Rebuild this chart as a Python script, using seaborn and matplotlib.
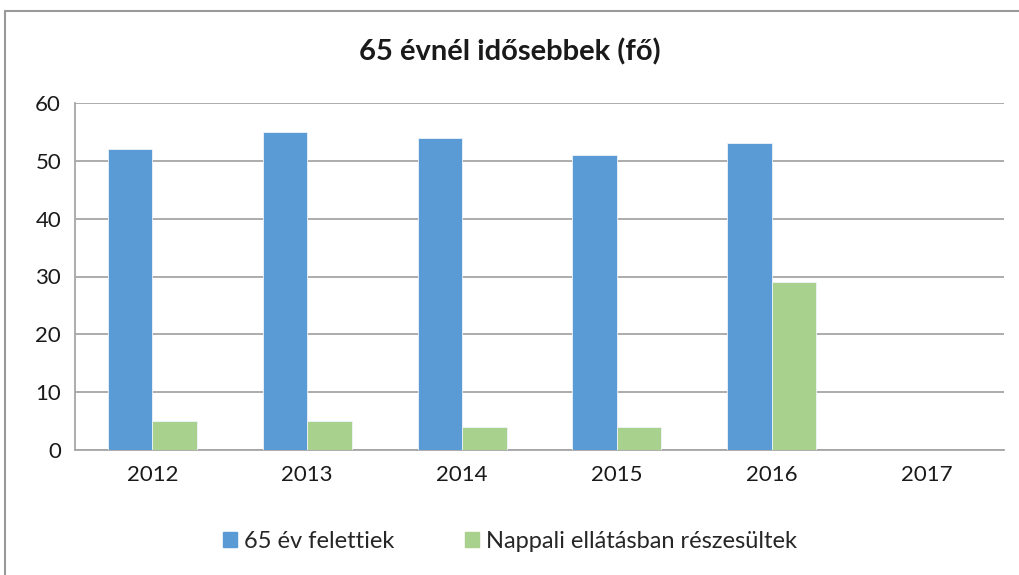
import matplotlib
matplotlib.use("Agg")
import matplotlib.pyplot as plt
from matplotlib.lines import Line2D
import pandas as pd
import seaborn as sns

# chart data
years = ["2012", "2013", "2014", "2015", "2016", "2017"]
over_65 = [52, 55, 54, 51, 53, 0]
day_care = [5, 5, 4, 4, 29, 0]
series_names = ["65 év felettiek", "Nappali ellátásban részesültek"]
colors = ["#5B9BD5", "#A9D18E"]
title = "65 évnél idősebbek (fő)"
y_ticks = [0, 10, 20, 30, 40, 50, 60]

df = pd.DataFrame({
    "year": years * 2,
    "value": over_65 + day_care,
    "series": [series_names[0]] * len(years) + [series_names[1]] * len(years),
})

sns.set_style("white")
plt.rcParams["font.family"] = ["Lato", "DejaVu Sans"]

fig = plt.figure(figsize=(10.2, 5.75), dpi=100)
ax = fig.add_axes([75 / 1020, 1 - 450 / 575, (1004 - 75) / 1020, (450 - 103) / 575])

sns.barplot(data=df, x="year", y="value", hue="series", order=years,
            hue_order=series_names, palette=colors, width=0.575, gap=0,
            saturation=1, ax=ax, zorder=3, legend=False,
            edgecolor="#eef4fa", linewidth=0.6)

ax.set_ylim(0, 60)
ax.set_yticks(y_ticks)
ax.set_xlim(-0.5, len(years) - 0.5)
ax.grid(axis="y", color="#a6a6a6", linewidth=1.3, zorder=0)
ax.set_axisbelow(True)
ax.set_xlabel("")
ax.set_ylabel("")
ax.tick_params(axis="both", length=0, labelsize=16, colors="#1a1a1a")
ax.tick_params(axis="x", pad=11)
ax.tick_params(axis="y", pad=10)
for side in ["top", "right"]:
    ax.spines[side].set_visible(False)
for side in ["left", "bottom"]:
    ax.spines[side].set_color("#a6a6a6")
    ax.spines[side].set_linewidth(1.3)

fig.text(0.5, 1 - 52 / 575, title, ha="center", va="center",
         fontsize=21, fontweight="bold", color="#1a1a1a")

handles = [plt.Rectangle((0, 0), 1, 1, color=c) for c in colors]
fig.legend(handles, series_names, loc="center", bbox_to_anchor=(0.5, 1 - 541 / 575),
           ncol=2, frameon=False, fontsize=17, handlelength=0.6, handleheight=0.6,
           columnspacing=3, handletextpad=0.3)

# outer chart border
fig.add_artist(Line2D([5.5 / 1020, 5.5 / 1020], [0, 1 - 10.5 / 575],
                      color="#999999", linewidth=1.5, transform=fig.transFigure))
fig.add_artist(Line2D([5.5 / 1020, 1], [1 - 10.5 / 575, 1 - 10.5 / 575],
                      color="#999999", linewidth=1.5, transform=fig.transFigure))

fig.savefig("out.png", dpi=100)
